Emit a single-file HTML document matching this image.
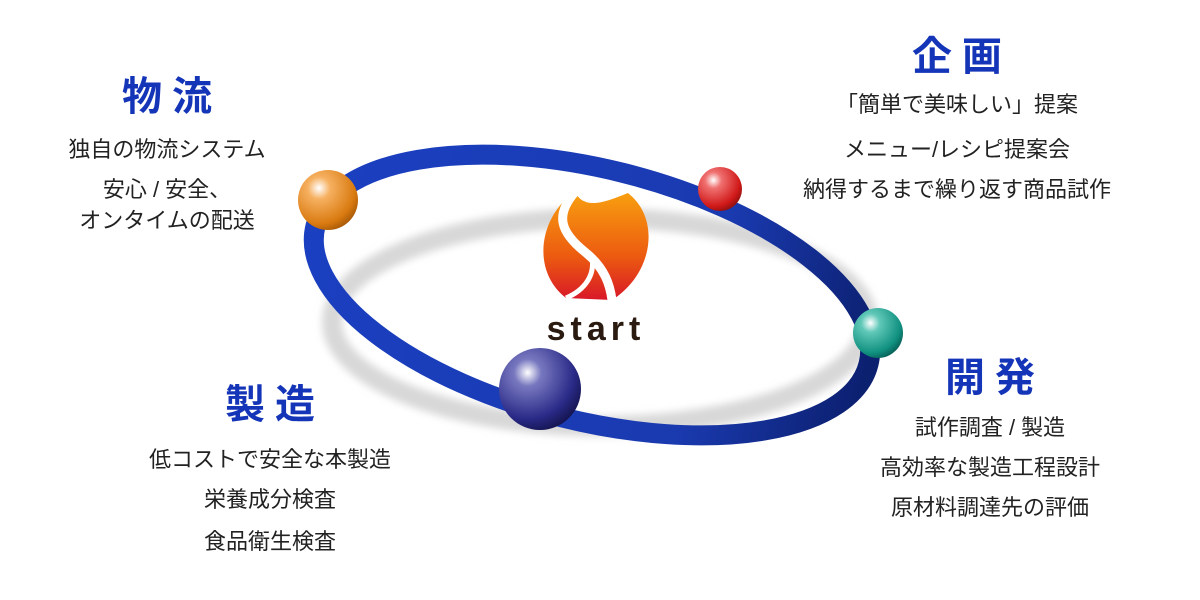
<!DOCTYPE html>
<html><head><meta charset="utf-8"><style>
html,body{margin:0;padding:0;background:#fff}
.wrap{position:relative;width:1200px;height:600px;overflow:hidden;font-family:"Liberation Sans","Noto Sans CJK JP",sans-serif;color:#222}
.t{position:absolute;text-align:center;white-space:nowrap}
.h{color:#1535b8;font-weight:bold;font-size:40px;line-height:44px;letter-spacing:10px;text-indent:10px}
.l{font-size:22px;position:absolute;text-align:center;white-space:nowrap;line-height:30px}
</style></head><body><div class="wrap">
<svg width="1200" height="600" style="position:absolute;left:0;top:0">
<defs>
<filter id="bl" x="-20%" y="-20%" width="140%" height="140%"><feGaussianBlur stdDeviation="4"/></filter>
<radialGradient id="go" cx="0.35" cy="0.3" r="0.75"><stop offset="0" stop-color="#fff"/><stop offset="0.25" stop-color="#f6b060"/><stop offset="0.8" stop-color="#d97a10"/><stop offset="1" stop-color="#a85a08"/></radialGradient>
<radialGradient id="gr" cx="0.35" cy="0.3" r="0.75"><stop offset="0" stop-color="#fff"/><stop offset="0.25" stop-color="#f07070"/><stop offset="0.8" stop-color="#d01818"/><stop offset="1" stop-color="#901010"/></radialGradient>
<radialGradient id="gt" cx="0.35" cy="0.3" r="0.75"><stop offset="0" stop-color="#fff"/><stop offset="0.25" stop-color="#60c8b8"/><stop offset="0.8" stop-color="#109080"/><stop offset="1" stop-color="#086058"/></radialGradient>
<radialGradient id="gn" cx="0.35" cy="0.3" r="0.75"><stop offset="0" stop-color="#fff"/><stop offset="0.22" stop-color="#7878c0"/><stop offset="0.75" stop-color="#2a2a88"/><stop offset="1" stop-color="#141450"/></radialGradient>
<linearGradient id="fl" x1="0" y1="0" x2="0" y2="1"><stop offset="0" stop-color="#f8a010"/><stop offset="0.6" stop-color="#ec5a10"/><stop offset="1" stop-color="#d81828"/></linearGradient>
<linearGradient id="rg" x1="0" y1="0" x2="1" y2="0"><stop offset="0" stop-color="#1a3fc0"/><stop offset="0.7" stop-color="#1a3ab0"/><stop offset="1" stop-color="#0c2070"/></linearGradient>
</defs>
<ellipse cx="600" cy="322" rx="268" ry="104" fill="none" stroke="#d8d8d8" stroke-width="20" filter="url(#bl)"/>
<ellipse cx="592" cy="295" rx="285" ry="126" transform="rotate(14 592 295)" fill="none" stroke="url(#rg)" stroke-width="20"/>
<path d="M575 192 C540 215 530 270 566 298 L612 300 C652 275 662 220 628 193 C610 200 585 212 575 192Z" fill="url(#fl)"/>
<path d="M575 192 C555 215 560 232 585 252 C605 268 610 285 612 300" fill="none" stroke="#fff" stroke-width="9"/>
<path d="M566 298 C585 290 595 275 592 258" fill="none" stroke="#fff" stroke-width="5"/>
<circle cx="328" cy="200" r="30" fill="url(#go)"/>
<circle cx="720" cy="189" r="22" fill="url(#gr)"/>
<circle cx="878" cy="333" r="25" fill="url(#gt)"/>
<circle cx="540" cy="389" r="41" fill="url(#gn)"/>
<text x="596" y="340" text-anchor="middle" font-family="Liberation Sans,sans-serif" font-size="34" font-weight="bold" fill="#2a1a10" letter-spacing="5">start</text>
</svg>
<div class="t h" style="left:67px;top:75px;width:200px">物流</div>
<div class="l" style="left:17px;top:135px;width:300px">独自の物流システム</div>
<div class="l" style="left:17px;top:175px;width:300px">安心 / 安全、</div>
<div class="l" style="left:17px;top:206px;width:300px">オンタイムの配送</div>
<div class="t h" style="left:857px;top:35px;width:200px">企画</div>
<div class="l" style="left:757px;top:90px;width:400px">「簡単で美味しい」提案</div>
<div class="l" style="left:757px;top:135px;width:400px">メニュー/レシピ提案会</div>
<div class="l" style="left:757px;top:175px;width:400px">納得するまで繰り返す商品試作</div>
<div class="t h" style="left:890px;top:356px;width:200px">開発</div>
<div class="l" style="left:840px;top:413px;width:300px">試作調査 / 製造</div>
<div class="l" style="left:840px;top:453px;width:300px">高効率な製造工程設計</div>
<div class="l" style="left:840px;top:493px;width:300px">原材料調達先の評価</div>
<div class="t h" style="left:170px;top:383px;width:200px">製造</div>
<div class="l" style="left:120px;top:445px;width:300px">低コストで安全な本製造</div>
<div class="l" style="left:120px;top:485px;width:300px">栄養成分検査</div>
<div class="l" style="left:120px;top:527px;width:300px">食品衛生検査</div>
</div></body></html>
